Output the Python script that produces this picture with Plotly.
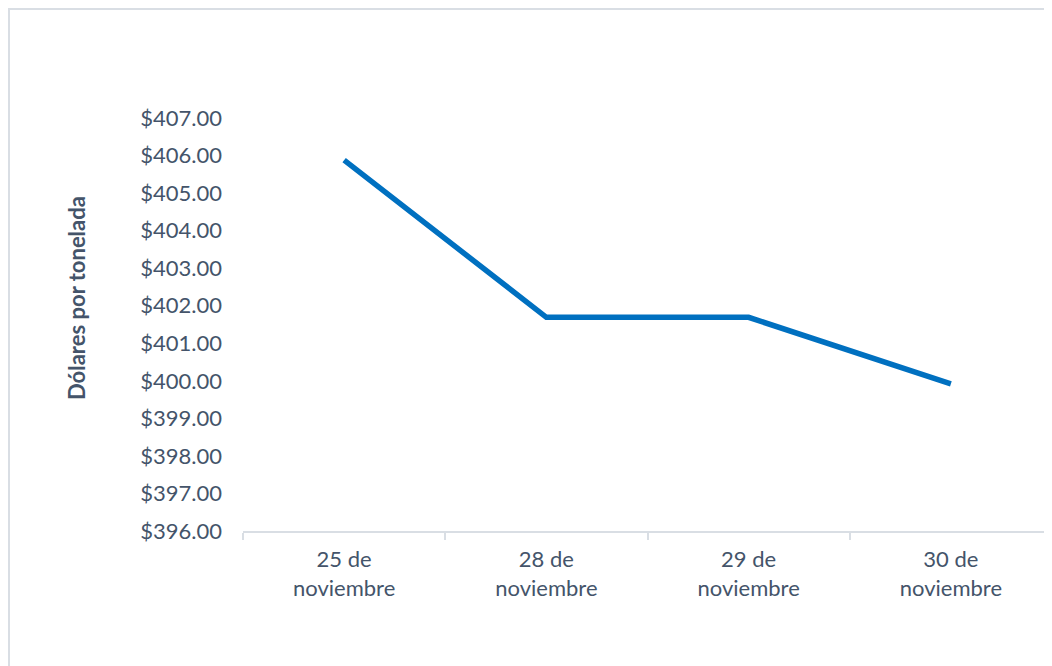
import plotly.graph_objects as go

categories = ["25 de<br>noviembre", "28 de<br>noviembre", "29 de<br>noviembre", "30 de<br>noviembre"]
precios = [405.88, 401.69, 401.69, 399.92]
y_ticks = [396, 397, 398, 399, 400, 401, 402, 403, 404, 405, 406, 407]
y_tick_labels = ["$%.2f" % v for v in y_ticks]
y_title = "Dólares por tonelada"

TEXT = "#44546A"
FONT = "Lato"

# page body has an 8px margin; compensate so the figure lines up with the window
OFF = 8
W, H = 1052 - OFF, 666 - OFF
L, R, T, B = 243 - OFF, 0, 118 - OFF, 135
pw, ph = W - L - R, H - T - B

fig = go.Figure()
fig.add_trace(go.Scatter(
    x=categories, y=precios, mode="lines",
    line=dict(color="#0070C0", width=5.5),
    hoverinfo="skip", showlegend=False,
))

fig.update_layout(
    width=W, height=H,
    margin=dict(l=L, r=R, t=T, b=B, pad=0),
    paper_bgcolor="white", plot_bgcolor="white",
    font=dict(family=FONT, color=TEXT, size=22),
    xaxis=dict(
        type="category", tickson="boundaries",
        ticks="outside", ticklen=7, tickcolor="#D9DEE4", tickwidth=1.5,
        showline=True, linecolor="#D9DEE4", linewidth=2,
        showgrid=False, zeroline=False,
        tickfont=dict(family=FONT, size=22, color=TEXT),
        ticklabelstandoff=8,
        range=[-0.5, 3.5],
    ),
    yaxis=dict(
        range=[396, 407], tickvals=y_ticks, ticktext=y_tick_labels,
        showgrid=False, zeroline=False, showline=False,
        ticks="", ticklabelstandoff=20,
        tickfont=dict(family=FONT, size=22, color=TEXT),
    ),
)

# y-axis title placed as a rotated annotation
fig.add_annotation(
    text="<b>%s</b>" % y_title, textangle=-90, showarrow=False,
    xref="paper", yref="paper",
    x=(76 - OFF - L) / pw, y=(H - B - (298 - OFF)) / ph,
    xanchor="center", yanchor="middle",
    font=dict(family=FONT, size=22, color=TEXT),
)

# outer chart border (light gray)
fig.add_shape(type="rect", xref="paper", yref="paper",
              x0=(1 - L) / pw, x1=1.02,
              y0=-0.5, y1=(H - B - 1) / ph,
              line=dict(color="#D9DEE4", width=2), fillcolor="rgba(0,0,0,0)",
              layer="below")

fig.write_html("out.html")
